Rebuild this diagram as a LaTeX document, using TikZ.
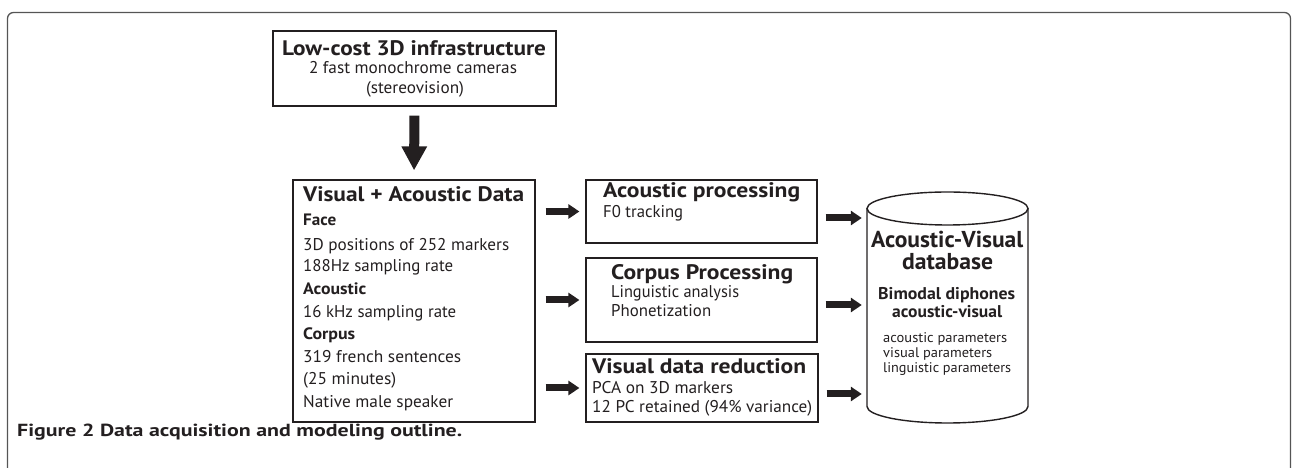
\documentclass[tikz,border=0pt]{standalone}
\usepackage{graphicx}
\usepackage{fontspec}
\setmainfont{PT Sans}
\usetikzlibrary{arrows.meta}
\definecolor{ink}{HTML}{231F20}
\definecolor{framec}{HTML}{555555}
\newcommand{\fw}[2]{\resizebox{#1pt}{\height}{#2}}
\begin{document}
\begin{tikzpicture}[x=1pt,y=1pt,
  box/.style={draw=ink, line width=1.2pt, inner sep=0pt},
  txt/.style={inner sep=0pt, anchor=base west, text=ink},
  ctxt/.style={inner sep=0pt, anchor=base, text=ink},
  ttl/.style={font=\bfseries\fontsize{21}{22}\selectfont},
  sub/.style={font=\bfseries\fontsize{16.5}{18}\selectfont},
  body/.style={font=\fontsize{17}{18}\selectfont},
  small/.style={font=\fontsize{14}{15}\selectfont},
  fatH/.style={draw=ink, line width=7pt, -{Triangle[width=14pt,length=11pt]}},
  fatV/.style={draw=ink, line width=10pt, -{Triangle[width=24pt,length=24pt]}}]
\useasboundingbox (0,0) rectangle (1292,468);
% outer frame
\draw[framec, line width=1.3pt, rounded corners=6pt] (7.5,-20) -- (7.5,455.5) -- (1290.5,455.5) -- (1290.5,-20);
% boxes
\node[box, minimum width=283pt, minimum height=75pt] (b1) at (414.5,399.5) {};
\node[box, minimum width=242pt, minimum height=242pt] (b2) at (414,167) {};
\node[box, minimum width=231pt, minimum height=63pt] (bA) at (701.5,256.5) {};
\node[box, minimum width=231pt, minimum height=84pt] (bB) at (701.5,168) {};
\node[box, minimum width=232pt, minimum height=68pt] (bC) at (702,80) {};
\node[inner sep=0pt, minimum width=161pt, minimum height=231pt] (db) at (947.5,160.5) {};
% cylinder
\draw[ink, line width=1.4pt] (947.5,259.5) ellipse [x radius=80.5, y radius=16.5];
\draw[ink, line width=1.4pt] (867,259.5) -- (867,61.5) arc[start angle=180, end angle=360, x radius=80.5, y radius=16.5] -- (1028,259.5);
% box 1 text
\node[ctxt, ttl] (t1) at (414,412) {\fw{264}{Low-cost 3D infrastructure}};
\node[ctxt, body] (t1a) at (413,394) {\fw{208}{2 fast monochrome cameras}};
\node[ctxt, body] (t1b) at (415,374) {\fw{98}{(stereovision)}};
% box 2 text
\node[txt, ttl] (t2) at (303,266) {\fw{221}{Visual + Acoustic Data}};
\node[txt, sub] (t2a) at (303,242) {\fw{33}{Face}};
\node[txt, body] (t2b) at (303,217) {\fw{206}{3D positions of 252 markers}};
\node[txt, body] (t2c) at (303,196) {\fw{150}{188Hz sampling rate}};
\node[txt, sub] (t2d) at (303,173) {\fw{63}{Acoustic}};
\node[txt, body] (t2e) at (303,150) {\fw{153}{16 kHz sampling rate}};
\node[txt, sub] (t2f) at (303,128) {\fw{52}{Corpus}};
\node[txt, body] (t2g) at (303,105) {\fw{158}{319 french sentences}};
\node[txt, body] (t2h) at (303,83) {\fw{93}{(25 minutes)}};
\node[txt, body] (t2i) at (303,60) {\fw{150}{Native male speaker}};
% box A text
\node[txt, ttl] (tA) at (603,270) {\fw{197}{Acoustic processing}};
\node[txt, body] (tAa) at (603,250) {\fw{80}{F0 tracking}};
% box B text
\node[txt, ttl] (tB) at (611,188) {\fw{182}{Corpus Processing}};
\node[txt, body] (tBa) at (611,170) {\fw{128}{Linguistic analysis}};
\node[txt, body] (tBb) at (611,151) {\fw{100}{Phonetization}};
% box C text
\node[txt, ttl] (tC) at (592,94) {\fw{214}{Visual data reduction}};
\node[txt, body] (tCa) at (592,74) {\fw{141}{PCA on 3D markers}};
\node[txt, body] (tCb) at (592,55) {\fw{220}{12 PC retained (94\% variance)}};
% database text
\node[txt, font=\bfseries\fontsize{23}{24}\selectfont] (td1) at (871,220) {\fw{152}{Acoustic-Visual}};
\node[txt, font=\bfseries\fontsize{23}{24}\selectfont] (td2) at (902,198) {\fw{91}{database}};
\node[txt, font=\bfseries\fontsize{17}{18}\selectfont] (td3) at (878,168) {\fw{137}{Bimodal diphones}};
\node[txt, font=\bfseries\fontsize{17}{18}\selectfont] (td4) at (892,150) {\fw{110}{acoustic-visual}};
\node[txt, small] (td5) at (883,125) {\fw{124}{acoustic parameters}};
\node[txt, small] (td6) at (883,110) {\fw{109}{visual parameters}};
\node[txt, small] (td7) at (883,95) {\fw{128}{linguistic parameters}};
% caption
\node[txt, font=\bfseries\fontsize{17.5}{19}\selectfont] (cap) at (17,31) {\fw{445}{Figure 2 Data acquisition and modeling outline.}};
% arrows
\draw[fatV, shorten <=9pt, shorten >=9pt] (b1.south) -- (b2.north);
\draw[fatH, shorten <=10pt, shorten >=6pt] (b2.east |- bA.west) -- (bA.west);
\draw[fatH, shorten <=10pt, shorten >=6pt] (b2.east |- bB.west) -- (bB.west);
\draw[fatH, shorten <=10pt, shorten >=6pt] (b2.east |- bC.west) -- (bC.west);
\draw[fatH, shorten <=8pt, shorten >=5pt] ([yshift=-6.5pt]bA.east) -- ([yshift=-6.5pt]bA.east -| db.west);
\draw[fatH, shorten <=8pt, shorten >=5pt] ([yshift=-5pt]bB.east) -- ([yshift=-5pt]bB.east -| db.west);
\draw[fatH, shorten <=8pt, shorten >=5pt] ([yshift=-6pt]bC.east) -- ([yshift=-6pt]bC.east -| db.west);
\end{tikzpicture}
\end{document}
